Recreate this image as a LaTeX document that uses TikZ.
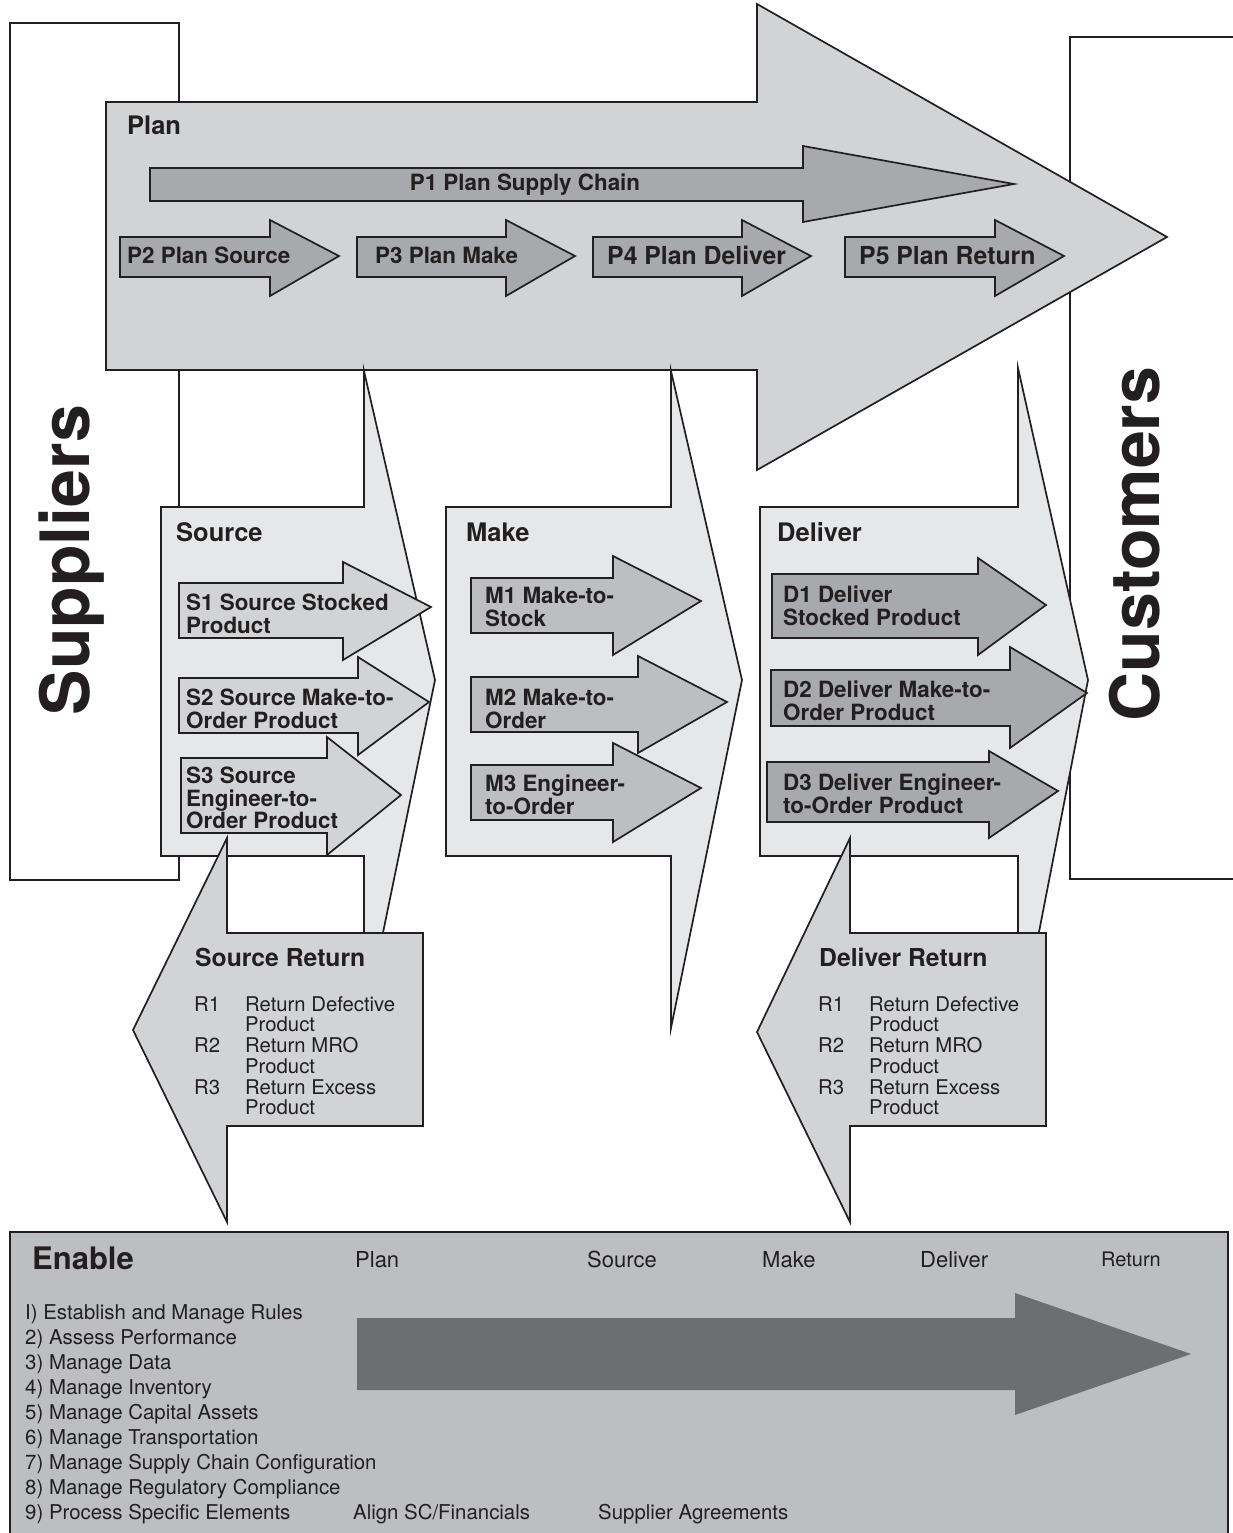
\documentclass[tikz,border=0pt]{standalone}
\usepackage{fontspec}
\setmainfont{TeX Gyre Heros}
\definecolor{ink}{HTML}{231F20}
\definecolor{gA}{HTML}{D1D3D4}
\definecolor{gB}{HTML}{E6E7E8}
\definecolor{gC}{HTML}{A7A9AC}
\definecolor{gD}{HTML}{BCBEC0}
\definecolor{gE}{HTML}{6D6E71}
\newcommand\myarrow[9]{\draw[#1] (#2,#3) -- (#5,#3) -- (#5,#6) -- (#8,#9) -- (#5,#7) -- (#5,#4) -- (#2,#4) -- cycle;}
\newcommand\secfont{\fontsize{25.5}{28}\selectfont\bfseries}
\newcommand\itemfont{\fontsize{22.4}{22.5}\selectfont\bfseries}
\newcommand\bigitemfont{\fontsize{24.8}{26}\selectfont\bfseries}
\newcommand\retfont{\fontsize{20.3}{19.5}\selectfont}
\newcommand\enfont{\fontsize{20.4}{25}\selectfont}
\tikzset{
  shp/.style={draw=ink, line width=1.7pt, line join=miter},
  txt/.style={text=ink, inner sep=0pt},
}
\begin{document}
\begin{tikzpicture}[x=1pt,y=-1pt]
\useasboundingbox (0,0) rectangle (1233,1533);
\clip (0,0) rectangle (1233,1533);
% Suppliers and Customers boxes
\draw[shp, fill=white] (10,23) rectangle (179,880);
\draw[shp] (1240,37) -- (1070,37) -- (1070,879) -- (1240,879);
% Plan big arrow
\myarrow{shp, fill=gA}{106}{102}{370}{757}{4}{470}{1167}{237}
% P arrows
\myarrow{shp, fill=gC}{150}{168}{201}{803}{146}{222}{1014}{184}
\myarrow{shp, fill=gC}{120}{237}{277}{270}{220}{296}{339}{256}
\myarrow{shp, fill=gC}{357}{237}{277}{506}{220}{296}{575}{256}
\myarrow{shp, fill=gC}{593}{237}{277}{742}{220}{296}{811}{256}
\myarrow{shp, fill=gC}{845}{237}{277}{995}{220}{296}{1064}{256}
% Source / Make / Deliver
\myarrow{shp, fill=gB}{161}{507}{856}{364}{371}{1025}{435}{680}
\myarrow{shp, fill=gB}{446}{507}{856}{671}{371}{1028}{742}{680}
\myarrow{shp, fill=gB}{760}{507}{856}{1018}{368}{1040}{1088}{680}
% S items
\myarrow{shp, fill=gA}{179}{583}{638}{343}{562}{660}{431}{607}
\myarrow{shp, fill=gA}{179}{678}{733}{358}{657}{755}{429}{702}
\myarrow{shp, fill=gA}{181}{758}{833}{327}{737}{855}{401}{795}
% M items
\myarrow{shp, fill=gD}{471}{578}{633}{613}{556}{655}{701}{601}
\myarrow{shp, fill=gD}{471}{677}{732}{638}{656}{753}{727}{702}
\myarrow{shp, fill=gD}{471}{765}{820}{613}{743}{842}{701}{788}
% D items
\myarrow{shp, fill=gC}{772}{574}{638}{978}{558}{655}{1046}{605}
\myarrow{shp, fill=gC}{771}{670}{726}{1010}{647}{748}{1087}{693}
\myarrow{shp, fill=gC}{767}{762}{822}{989}{751}{838}{1058}{791}
% Return arrows
\draw[shp, fill=gA] (227,838) -- (133,1030) -- (227,1222) -- (227,1126) -- (423,1126) -- (423,933) -- (227,933) -- cycle;
\draw[shp, fill=gA] (850,838) -- (757,1032) -- (850,1222) -- (850,1126) -- (1046,1126) -- (1046,933) -- (850,933) -- cycle;
% Enable box
\draw[shp, fill=gD] (10,1232) rectangle (1228,1560);
\fill[gE] (357,1318) -- (1015,1318) -- (1015,1293) -- (1191,1354) -- (1015,1415) -- (1015,1390) -- (357,1390) -- cycle;

% Texts
\node[txt, rotate=90, font=\fontsize{68}{70}\selectfont\bfseries] (sup) at (72,560) {Suppliers};
\node[txt, rotate=90, font=\fontsize{68}{70}\selectfont\bfseries] (cus) at (1135,544) {Customers};
\node[txt, anchor=base west, font=\secfont] (plan) at (127,135) {Plan};
\node[txt, anchor=base, font=\itemfont] (p1) at (525,191) {P1 Plan Supply Chain};
\node[txt, anchor=base west, font=\itemfont] (p2) at (127,263) {P2 Plan Source};
\node[txt, anchor=base west, font=\itemfont] (p3) at (375,263) {P3 Plan Make};
\node[txt, anchor=base west, font=\bigitemfont] (p4) at (607,264) {P4 Plan Deliver};
\node[txt, anchor=base west, font=\bigitemfont] (p5) at (859,264) {P5 Plan Return};
\node[txt, anchor=base west, font=\secfont] (src) at (176,541) {Source};
\node[txt, anchor=base west, font=\secfont] (mak) at (466,541) {Make};
\node[txt, anchor=base west, font=\secfont] (del) at (777,541) {Deliver};
\node[txt, anchor=north west, align=left, font=\itemfont] (s1) at (186,594) {S1 Source Stocked\\Product};
\node[txt, anchor=north west, align=left, font=\itemfont] (s2) at (186,689) {S2 Source Make-to-\\Order Product};
\node[txt, anchor=north west, align=left, font=\itemfont] (s3) at (186,767) {S3 Source\\Engineer-to-\\Order Product};
\node[txt, anchor=north west, align=left, font=\itemfont] (m1) at (485,587) {M1 Make-to-\\Stock};
\node[txt, anchor=north west, align=left, font=\itemfont] (m2) at (485,689) {M2 Make-to-\\Order};
\node[txt, anchor=north west, align=left, font=\itemfont] (m3) at (485,775) {M3 Engineer-\\to-Order};
\node[txt, anchor=north west, align=left, font=\itemfont] (d1) at (783,586) {D1 Deliver\\Stocked Product};
\node[txt, anchor=north west, align=left, font=\itemfont] (d2) at (783,681) {D2 Deliver Make-to-\\Order Product};
\node[txt, anchor=north west, align=left, font=\itemfont] (d3) at (783,774) {D3 Deliver Engineer-\\to-Order Product};
\node[txt, anchor=base west, font=\fontsize{24.7}{26}\selectfont\bfseries] (sr) at (195,966) {Source Return};
\node[txt, anchor=base west, font=\fontsize{24.7}{26}\selectfont\bfseries] (dr) at (819,966) {Deliver Return};
\node[txt, anchor=north west, font=\retfont] (srl) at (194,996) {\begin{tabular}{@{}p{51pt}@{}l@{}}R1&Return Defective\\&Product\\R2&Return MRO\\&Product\\R3&Return Excess\\&Product\end{tabular}};
\node[txt, anchor=north west, font=\retfont] (drl) at (818,996) {\begin{tabular}{@{}p{51pt}@{}l@{}}R1&Return Defective\\&Product\\R2&Return MRO\\&Product\\R3&Return Excess\\&Product\end{tabular}};
% Enable
\node[txt, anchor=base west, font=\fontsize{31}{33}\selectfont\bfseries] (en) at (32,1269) {Enable};
\node[txt, anchor=base west, font=\fontsize{22}{24}\selectfont] (hp) at (355,1267) {Plan};
\node[txt, anchor=base west, font=\fontsize{22}{24}\selectfont] (hs) at (587,1267) {Source};
\node[txt, anchor=base west, font=\fontsize{22}{24}\selectfont] (hm) at (762,1267) {Make};
\node[txt, anchor=base west, font=\fontsize{22}{24}\selectfont] (hd) at (920,1267) {Deliver};
\node[txt, anchor=base west, font=\fontsize{20}{22}\selectfont] (hr) at (1101,1266) {Return};
\foreach \t [count=\i from 0] in {I) Establish and Manage Rules, 2) Assess Performance, 3) Manage Data, 4) Manage Inventory, 5) Manage Capital Assets, 6) Manage Transportation, 7) Manage Supply Chain Configuration, 8) Manage Regulatory Compliance, 9) Process Specific Elements}
  \node[txt, anchor=base west, font=\enfont] (el\i) at (25,1319.5+25*\i) {\t};
\node[txt, anchor=base west, font=\enfont] (al) at (353,1519.5) {Align SC/Financials};
\node[txt, anchor=base west, font=\enfont] (sa) at (598,1519.5) {Supplier Agreements};
\end{tikzpicture}
\end{document}
